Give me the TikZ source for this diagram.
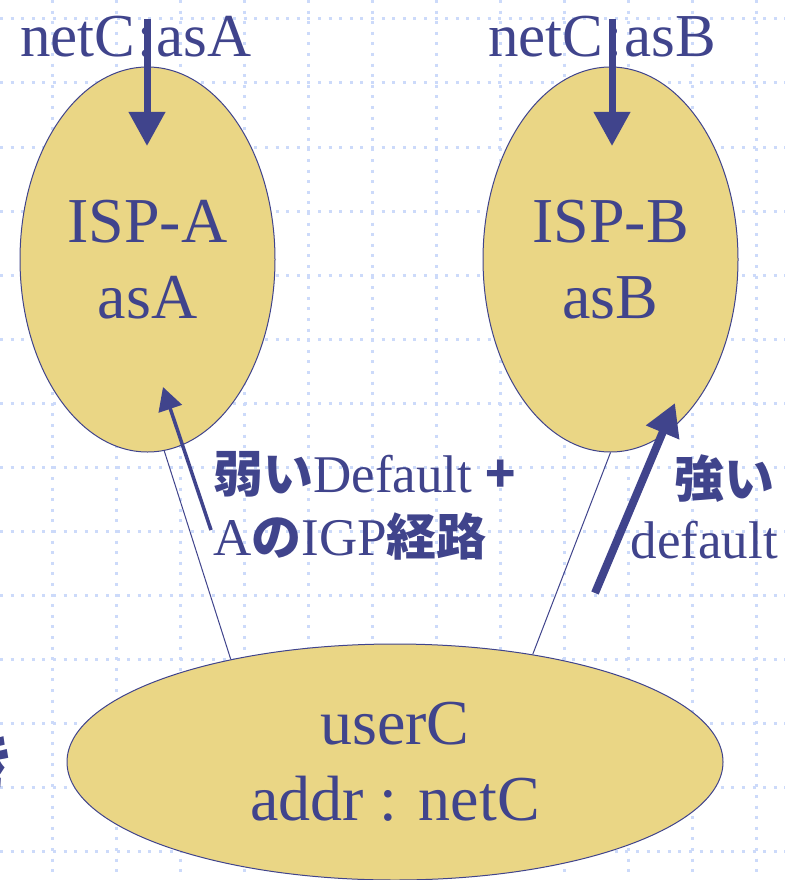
\documentclass[tikz,border=0pt]{standalone}
\usepackage{fontspec}
\setmainfont{Liberation Serif}
\newfontfamily\jpfont{Noto Sans CJK JP}
\usetikzlibrary{shapes.geometric, arrows.meta, positioning}
\definecolor{navy}{RGB}{64,68,140}
\definecolor{sand}{RGB}{234,214,133}
\definecolor{gridblue}{RGB}{204,218,250}
\newcommand{\jptext}[1]{{\jpfont\bfseries\fontsize{50}{56}\selectfont #1}}

\begin{document}
\begin{tikzpicture}[x=1pt, y=-1pt,
	blob/.style={draw=navy, fill=sand, ellipse, inner sep=0pt, line width=1pt, text=navy, align=center, font=\fontsize{64}{76}\selectfont},
	note/.style={text=navy, inner sep=0pt, font=\fontsize{53}{60}\selectfont},
	gridline/.style={gridblue, line width=3pt, dash pattern=on 3pt off 7.6pt},
	wire/.style={draw=navy, line width=1pt},
	drop/.style={navy, line width=7pt, -{Triangle[width=35pt,length=34pt]}},
	]

	\clip (0,0) rectangle (785,880);
	\fill[white] (0,0) rectangle (785,880);

%grid
	\foreach \gx in {52,116,...,756} \draw[gridline] (\gx,0) -- (\gx,880);
	\foreach \gy in {19,83,...,851} \draw[gridline] (0,\gy) -- (785,\gy);

%cut off title
	\node [anchor=base east, inner sep=0pt, text=navy] (cut) at (17,784){\jpfont\bfseries\fontsize{62}{62}\selectfont き};

%the three networks
	\node [blob, minimum width=255pt, minimum height=385pt] (ispA) at (147.5,259.5){ISP-A\\asA};
	\node [blob, minimum width=255pt, minimum height=385pt] (ispB) at (610.5,259.5){ISP-B\\asB};
	\node [blob, minimum width=656pt, minimum height=236pt] (userC) at (395,762){userC\\addr : netC};

	\draw [wire] (ispA.-85) -- (userC.148.5);
	\draw [wire] (ispB.south) -- (userC.38.3);

%prefix announcements
	\node [note, font=\fontsize{61}{64}\selectfont, anchor=base west] (netA) at (20,57){netC\hspace{2pt}:\hspace{2pt}asA};
	\node [note, font=\fontsize{61}{64}\selectfont, anchor=base west] (netB) at (488,57){netC\hspace{2pt}:\hspace{2pt}asB};
	\coordinate [] (dropA) at (147,19){};
	\coordinate [] (tipA) at (147,146){};
	\coordinate [] (dropB) at (612,19){};
	\coordinate [] (tipB) at (612,146){};
	\draw [drop] (dropA) -- (tipA);
	\draw [drop] (dropB) -- (tipB);

%default routes
	\coordinate [] (weakTail) at (211,530){};
	\coordinate [] (weakTip) at (163,387){};
	\coordinate [] (strongTail) at (595,593){};
	\coordinate [] (strongTip) at (675,403){};
	\draw [navy, line width=3.5pt, -{Triangle[width=24pt,length=23pt]}] (weakTail) -- (weakTip);
	\draw [navy, line width=8pt, -{Triangle[width=34pt,length=32pt]}] (strongTail) -- (strongTip);

	\node [note, anchor=base west] (weakA) at (213,492){\jptext{弱い}Default \jptext{+}};
	\node [note, anchor=base west] (weakB) at (213,555){A\jptext{の}IGP\jptext{経路}};
	\node [note, anchor=base east] (strongA) at (775,497){\jptext{強い}};
	\node [note, anchor=base east] (strongB) at (778,558){default};

\end{tikzpicture}
\end{document}
